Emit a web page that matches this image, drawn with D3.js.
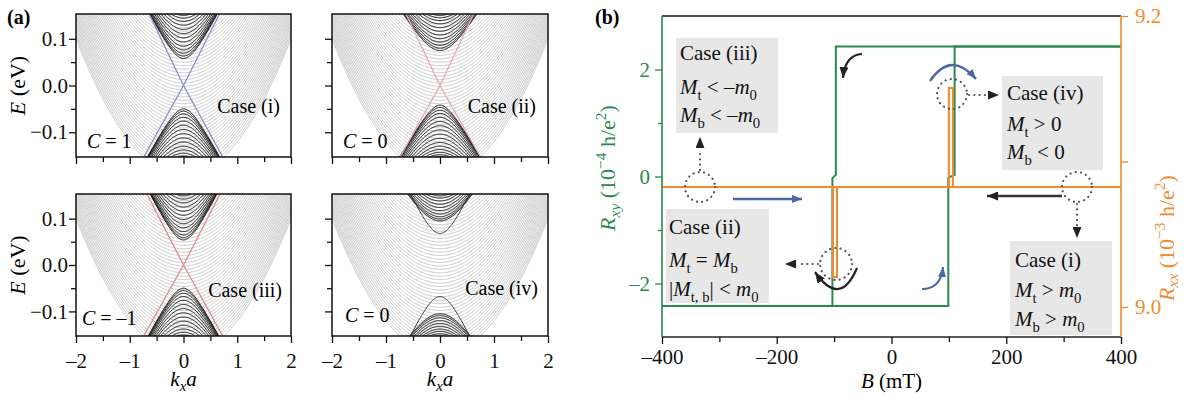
<!DOCTYPE html>
<html>
<head>
<meta charset="utf-8">
<script src="https://cdn.jsdelivr.net/npm/d3@7"></script>
<style>
  html, body { margin: 0; padding: 0; background: #fff; }
  svg { display: block; font-family: "Liberation Serif", "Times New Roman", serif; }
</style>
</head>
<body>
<svg id="fig" width="1184" height="397"></svg>
<script>
// ---------------- panel (a): ribbon band structures ----------------
const kTicks = [-2, -1, 0, 1, 2];
const kMinorTicks = [-1.5, -0.5, 0.5, 1.5];
const eTicks = [0.1, 0.0, -0.1];
const eMinorTicks = [0.05, -0.05];
const eDomain = [-0.153, 0.153];
const caseLabels = ["Case (i)", "Case (ii)", "Case (iii)", "Case (iv)"];
const chernValues = ["1", "0", "–1", "0"];

// minima of the gray surface-continuum subbands (eV), shared by all four cases
const grayMinima = [-0.194, -0.1868, -0.1795, -0.1722, -0.1648, -0.1574, -0.15, -0.1426,
  -0.1352, -0.1278, -0.1204, -0.113, -0.1056, -0.0982, -0.0908, -0.0834, -0.076, -0.0686,
  -0.0612, -0.0538, -0.0464, -0.039, -0.0316, -0.0242, -0.0168, -0.0094, -0.002, 0.0054,
  0.0128, 0.0202, 0.0276, 0.035, 0.0424, 0.0498, 0.0572, 0.0646, 0.072, 0.0794, 0.0868,
  0.0942, 0.1016, 0.109, 0.1164, 0.1238, 0.1312, 0.1386, 0.146];
const grayCurvature = 0.0736;   // eV per (k_x a)^2

// bulk subband edges at k_x = 0 (eV) and their asymptotic velocities, per case
const conductionEdges = [
  [0.058, 0.063, 0.069, 0.076, 0.084, 0.093, 0.102, 0.111, 0.12, 0.129, 0.137, 0.144, 0.15],
  [0.075, 0.08, 0.086, 0.093, 0.1, 0.108, 0.116, 0.124, 0.132, 0.139, 0.145, 0.15],
  [0.054, 0.059, 0.065, 0.072, 0.08, 0.089, 0.098, 0.107, 0.116, 0.125, 0.134, 0.142, 0.149],
  [0.095, 0.099, 0.104, 0.11, 0.117, 0.124, 0.131, 0.138, 0.144, 0.149]
];
const conductionVelocity = [0.225, 0.196, 0.23, 0.2];
const valenceEdges = [
  [-0.05, -0.055, -0.061, -0.068, -0.076, -0.085, -0.094, -0.103, -0.112, -0.121, -0.13, -0.138, -0.145, -0.151],
  [-0.042, -0.047, -0.053, -0.06, -0.068, -0.077, -0.086, -0.095, -0.104, -0.113, -0.122, -0.13, -0.137, -0.143, -0.148, -0.152],
  [-0.05, -0.055, -0.061, -0.068, -0.076, -0.085, -0.094, -0.103, -0.112, -0.121, -0.13, -0.138, -0.145, -0.151],
  [-0.105, -0.109, -0.114, -0.12, -0.126, -0.132, -0.138, -0.143, -0.148, -0.152]
];
const valenceVelocity = [0.215, 0.196, 0.22, 0.2];

// split-off gapped surface bands (edge at k_x = 0, velocity), case (iv) only
const gappedSurfaceBands = [[], [], [], [[0.068, 0.25], [-0.068, 0.25]]];

// chiral edge-state branches, as (k_x a, E) points
const edgeStates = [
  [[[-0.74, -0.153], [0, 0], [0.67, 0.153]], [[0.73, -0.153], [0, 0], [-0.64, 0.153]]],
  [[[-0.74, -0.153], [0, 0], [0.62, 0.153]], [[0.75, -0.153], [0, 0], [-0.63, 0.153]]],
  [[[-0.74, -0.153], [0, 0], [0.68, 0.153]], [[0.73, -0.153], [0, 0], [-0.68, 0.153]]],
  []
];
const edgeColors = ["#8c8ec8", "#e8aab4", "#e08c8e", "none"];

// ---------------- panel (b): Hall and longitudinal resistance loops ----------------
const bTicks = [-400, -200, 0, 200, 400];
const bMinorTicks = [-300, -100, 100, 300];
const rxyTicks = [2, 0, -2];
const rxyMinorTicks = [1, -1];
const rxxTicks = [9.2, 9.0];
const rxxMinorTicks = [9.1];

const upSweepB = [-400, 99, 99, 110, 110, 400];
const upSweepRxy = [-2.42, -2.42, -0.02, 0.03, 2.43, 2.43];
const downSweepB = [400, -97, -97, -103, -103, -400];
const downSweepRxy = [2.43, 2.43, 0.03, -0.03, -2.42, -2.42];

const upSweepRxxB = [-400, 100, 100, 107, 107, 400];
const upSweepRxx = [9.0825, 9.0825, 9.1505, 9.1505, 9.0825, 9.0825];
const downSweepRxxB = [400, -95, -95, -102, -102, -400];
const downSweepRxx = [9.0825, 9.0825, 9.0206, 9.0206, 9.0825, 9.0825];

// ---------------- drawing ----------------
const svg = d3.select("#fig");
const SERIF = '"Liberation Serif","Times New Roman",serif';
const GREEN = "#2a8a4e", ORANGE = "#f08a2c", BLUE = "#4a68a8", INK = "#111";
const MINUS = "–";
const fmtMinus = s => String(s).replace("-", MINUS);

// rich text: parts of {t, i (italic), sub, sup}
function rich(sel, x, y, parts, size, anchor, subShift) {
  const t = sel.append("text").attr("x", x).attr("y", y)
    .attr("font-family", SERIF)
    .attr("font-size", size).attr("text-anchor", anchor || "start");
  let shift = 0;
  parts.forEach(p => {
    const target = p.sub ? size * (subShift || 0.27) : (p.sup ? -size * 0.4 : 0);
    const ts = t.append("tspan").text(p.t).attr("dy", target - shift);
    shift = target;
    if (p.sub || p.sup) ts.attr("font-size", size * 0.7);
    if (p.i) ts.attr("font-style", "italic");
  });
  return t;
}

const defs = svg.append("defs");

// ===== panel (a) =====
const cells = [
  {x0: 76, x1: 291, y0: 14, y1: 157, xl: false, yl: true, caseX: 280, caseY: 113, cX: 87, cY: 148},
  {x0: 332, x1: 548, y0: 14, y1: 157, xl: false, yl: false, caseX: 536, caseY: 113, cX: 343, cY: 148},
  {x0: 76, x1: 291, y0: 194, y1: 336, xl: true, yl: true, caseX: 282, caseY: 297, cX: 82, cY: 325},
  {x0: 332, x1: 548, y0: 194, y1: 336, xl: true, yl: false, caseX: 538, caseY: 295, cX: 345, cY: 322}
];

const kSamples = d3.range(-2.1, 2.1001, 0.01);

cells.forEach((c, idx) => {
  const x = d3.scaleLinear().domain([-2, 2]).range([c.x0, c.x1]);
  const y = d3.scaleLinear().domain(eDomain).range([c.y1, c.y0]);
  const g = svg.append("g");
  const clipId = "clip" + idx;
  defs.append("clipPath").attr("id", clipId).append("rect")
    .attr("x", c.x0).attr("y", c.y0).attr("width", c.x1 - c.x0).attr("height", c.y1 - c.y0);
  const plot = g.append("g").attr("clip-path", `url(#${clipId})`);
  const line = d3.line().x(d => x(d[0])).y(d => y(d[1]));
  const hyperbola = (m, v) => line(kSamples.map(k => [k, Math.sign(m) * Math.sqrt(m * m + v * v * k * k)]));

  // gray continuum
  plot.append("g").selectAll("path").data(grayMinima).join("path")
    .attr("d", e0 => line(kSamples.map(k => [k, e0 + grayCurvature * k * k])))
    .attr("fill", "none").attr("stroke", "#bdbdbd").attr("stroke-width", 0.85);

  // bulk subbands
  const vc = conductionVelocity[idx], vv = valenceVelocity[idx];
  plot.append("g").selectAll("path").data(conductionEdges[idx]).join("path")
    .attr("d", m => hyperbola(m, vc))
    .attr("fill", "none").attr("stroke", INK).attr("stroke-width", 1);
  plot.append("g").selectAll("path").data(valenceEdges[idx]).join("path")
    .attr("d", m => hyperbola(m, vv))
    .attr("fill", "none").attr("stroke", INK).attr("stroke-width", 1);
  plot.append("g").selectAll("path").data(gappedSurfaceBands[idx]).join("path")
    .attr("d", d => hyperbola(d[0], d[1]))
    .attr("fill", "none").attr("stroke", "#333").attr("stroke-width", 1);

  // edge states
  plot.append("g").selectAll("path").data(edgeStates[idx]).join("path")
    .attr("d", d => line(d))
    .attr("fill", "none").attr("stroke", edgeColors[idx]).attr("stroke-width", 1.3);

  // frame
  g.append("rect").attr("x", c.x0).attr("y", c.y0)
    .attr("width", c.x1 - c.x0).attr("height", c.y1 - c.y0)
    .attr("fill", "none").attr("stroke", "#111").attr("stroke-width", 1.5);

  // axes
  g.append("g").attr("transform", `translate(0,${c.y1})`)
    .call(d3.axisBottom(x).tickValues(kTicks).tickSize(7).tickPadding(10)
      .tickFormat(c.xl ? fmtMinus : ""));
  g.append("g").attr("transform", `translate(0,${c.y1})`)
    .call(d3.axisBottom(x).tickValues(kMinorTicks).tickSize(5).tickFormat(""));
  g.append("g").attr("transform", `translate(${c.x0},0)`)
    .call(d3.axisLeft(y).tickValues(eTicks).tickSize(7).tickPadding(1)
      .tickFormat(c.yl ? (v => fmtMinus(d3.format(".1f")(v))) : ""));
  g.append("g").attr("transform", `translate(${c.x0},0)`)
    .call(d3.axisLeft(y).tickValues(eMinorTicks).tickSize(5).tickFormat(""));
  g.selectAll(".domain").remove();
  g.selectAll(".tick line").attr("stroke", "#111").attr("stroke-width", 1.3);
  g.selectAll(".tick text").attr("font-size", 21).attr("fill", "#111")
    .attr("font-family", SERIF);

  // labels inside
  g.append("text").attr("x", c.caseX).attr("y", c.caseY).attr("text-anchor", "end")
    .attr("font-family", SERIF).attr("font-size", 20).text(caseLabels[idx]);
  rich(g, c.cX, c.cY, [{t: "C", i: true}, {t: " = " + chernValues[idx]}], 20);

  if (c.yl) {
    const gy = g.append("g").attr("transform", `translate(25,${(c.y0 + c.y1) / 2}) rotate(-90)`);
    rich(gy, 0, 0, [{t: "E", i: true}, {t: " (eV)"}], 22, "middle");
  }
  if (c.xl) {
    rich(g, (c.x0 + c.x1) / 2, 386, [{t: "k", i: true}, {t: "x", i: true, sub: true}, {t: "a", i: true}], 21, "middle", 0.22);
  }
});

svg.append("text").attr("x", 7).attr("y", 24).attr("font-size", 20)
  .attr("font-family", SERIF).attr("font-weight", "bold").text("(a)");

// ===== panel (b) =====
const bx0 = 662, bx1 = 1121, by0 = 16, by1 = 337;
const xB = d3.scaleLinear().domain([-400, 400]).range([bx0, bx1]);
const yRxy = d3.scaleLinear().domain([-3, 3]).range([by1, by0]);
const yRxx = d3.scaleLinear().domain([9.0 - (by1 - 307) / 1455, 9.2]).range([by1, by0]);

const pb = svg.append("g");

// annotation boxes
const boxes = [
  {x: 676, y: 38, w: 102, h: 95, lines: [
    [{t: "Case (iii)"}],
    [{t: "M", i: true}, {t: "t", sub: true}, {t: " < " + MINUS}, {t: "m", i: true}, {t: "0", sub: true}],
    [{t: "M", i: true}, {t: "b", sub: true}, {t: " < " + MINUS}, {t: "m", i: true}, {t: "0", sub: true}]],
    tx: 680, ty: [60, 94, 122]},
  {x: 1002, y: 76, w: 101, h: 94, lines: [
    [{t: "Case (iv)"}],
    [{t: "M", i: true}, {t: "t", sub: true}, {t: " > 0"}],
    [{t: "M", i: true}, {t: "b", sub: true}, {t: " < 0"}]],
    tx: 1007, ty: [100, 131, 159]},
  {x: 666, y: 209, w: 103, h: 94, lines: [
    [{t: "Case (ii)"}],
    [{t: "M", i: true}, {t: "t", sub: true}, {t: " = "}, {t: "M", i: true}, {t: "b", sub: true}],
    [{t: "|"}, {t: "M", i: true}, {t: "t, b", sub: true}, {t: "| < "}, {t: "m", i: true}, {t: "0", sub: true}]],
    tx: 669, ty: [234, 267, 296]},
  {x: 1010, y: 241, w: 102, h: 94, lines: [
    [{t: "Case (i)"}],
    [{t: "M", i: true}, {t: "t", sub: true}, {t: " > "}, {t: "m", i: true}, {t: "0", sub: true}],
    [{t: "M", i: true}, {t: "b", sub: true}, {t: " > "}, {t: "m", i: true}, {t: "0", sub: true}]],
    tx: 1015, ty: [267, 297, 326]}
];
pb.append("g").selectAll("rect").data(boxes).join("rect")
  .attr("x", d => d.x).attr("y", d => d.y).attr("width", d => d.w).attr("height", d => d.h)
  .attr("fill", "#e7e7e7");

// resistance loops
const loopLine = d3.line().x(d => xB(d[0])).y(d => d[2](d[1]));
const zip = (bs, vs, sc) => bs.map((b, i) => [b, vs[i], sc]);
[zip(upSweepB, upSweepRxy, yRxy), zip(downSweepB, downSweepRxy, yRxy)].forEach(pts => {
  pb.append("path").attr("d", loopLine(pts)).attr("fill", "none")
    .attr("stroke", GREEN).attr("stroke-width", 2).attr("stroke-linejoin", "miter");
});
[zip(upSweepRxxB, upSweepRxx, yRxx), zip(downSweepRxxB, downSweepRxx, yRxx)].forEach(pts => {
  pb.append("path").attr("d", loopLine(pts)).attr("fill", "none")
    .attr("stroke", ORANGE).attr("stroke-width", 2).attr("stroke-linejoin", "miter");
});

// spines
pb.append("line").attr("x1", bx0).attr("x2", bx1).attr("y1", by0).attr("y2", by0)
  .attr("stroke", "#111").attr("stroke-width", 1.5);
pb.append("line").attr("x1", bx0).attr("x2", bx1).attr("y1", by1).attr("y2", by1)
  .attr("stroke", "#222").attr("stroke-width", 1.5);
pb.append("line").attr("x1", bx0).attr("x2", bx0).attr("y1", by0).attr("y2", by1)
  .attr("stroke", GREEN).attr("stroke-width", 1.6);
pb.append("line").attr("x1", bx1).attr("x2", bx1).attr("y1", by0).attr("y2", by1)
  .attr("stroke", ORANGE).attr("stroke-width", 1.6);

function styleAxis(g, color, size) {
  g.select(".domain").remove();
  g.selectAll(".tick line").attr("stroke", color).attr("stroke-width", 1.3);
  g.selectAll(".tick text").attr("fill", color).attr("font-size", size)
    .attr("font-family", SERIF);
}
styleAxis(pb.append("g").attr("transform", `translate(0,${by1})`)
  .call(d3.axisBottom(xB).tickValues(bTicks).tickSize(7).tickPadding(5).tickFormat(fmtMinus)), "#111", 21);
styleAxis(pb.append("g").attr("transform", `translate(0,${by1})`)
  .call(d3.axisBottom(xB).tickValues(bMinorTicks).tickSize(5).tickFormat("")), "#111", 21);
styleAxis(pb.append("g").attr("transform", `translate(${bx0},0)`)
  .call(d3.axisLeft(yRxy).tickValues(rxyTicks).tickSize(7).tickPadding(5).tickFormat(fmtMinus)), GREEN, 21);
styleAxis(pb.append("g").attr("transform", `translate(${bx0},0)`)
  .call(d3.axisLeft(yRxy).tickValues(rxyMinorTicks).tickSize(4).tickFormat("")), GREEN, 21);
styleAxis(pb.append("g").attr("transform", `translate(${bx1},0)`)
  .call(d3.axisRight(yRxx).tickValues(rxxTicks).tickSize(7).tickPadding(7).tickFormat(d3.format(".1f"))), ORANGE, 21);
styleAxis(pb.append("g").attr("transform", `translate(${bx1},0)`)
  .call(d3.axisRight(yRxx).tickValues(rxxMinorTicks).tickSize(7).tickFormat("")), ORANGE, 21);

// axis titles
rich(pb, (bx0 + bx1) / 2, 388, [{t: "B", i: true}, {t: " (mT)"}], 21, "middle");
const gl = pb.append("g").attr("transform", "translate(615,168) rotate(-90)").attr("fill", GREEN);
rich(gl, 0, 0, [{t: "R", i: true}, {t: "xy", i: true, sub: true}, {t: " (10"}, {t: "−4", sup: true},
  {t: " h/e"}, {t: "2", sup: true}, {t: ")"}], 22, "middle", 0.22).attr("fill", GREEN);
const gr = pb.append("g").attr("transform", "translate(1174,238) rotate(-90)").attr("fill", ORANGE);
rich(gr, 0, 0, [{t: "R", i: true}, {t: "xx", i: true, sub: true}, {t: " (10"}, {t: "−3", sup: true},
  {t: " h/e"}, {t: "2", sup: true}, {t: ")"}], 22, "middle", 0.2).attr("fill", ORANGE);

// markers for arrows
function marker(id, color, w, h) {
  defs.append("marker").attr("id", id).attr("viewBox", `0 0 ${w} ${h}`)
    .attr("refX", w).attr("refY", h / 2).attr("markerWidth", w).attr("markerHeight", h)
    .attr("markerUnits", "userSpaceOnUse").attr("orient", "auto")
    .append("path").attr("d", `M0,0 L${w},${h / 2} L0,${h} Z`).attr("fill", color);
}
marker("headK", "#222", 11, 9);
marker("headB", BLUE, 10, 8);

const ann = pb.append("g");
// dotted circles marking the states
const rings = [[700, 187, 15], [1077, 187, 15], [952, 94, 15], [836, 264, 16]];
ann.selectAll("circle").data(rings).join("circle")
  .attr("cx", d => d[0]).attr("cy", d => d[1]).attr("r", d => d[2])
  .attr("fill", "none").attr("stroke", "#555").attr("stroke-width", 2.2)
  .attr("stroke-dasharray", "0.1 5.2").attr("stroke-linecap", "round");
// dotted leaders to the boxes
const leaders = [[[700, 170], [700, 150]], [[1077, 204], [1077, 226]], [[969, 95], [989, 95]], [[818, 264], [797, 264]]];
leaders.forEach(l => {
  ann.append("line").attr("x1", l[0][0]).attr("y1", l[0][1]).attr("x2", l[1][0]).attr("y2", l[1][1])
    .attr("stroke", "#555").attr("stroke-width", 2.2).attr("stroke-dasharray", "0.1 5.2")
    .attr("stroke-linecap", "round");
});
const heads = [[[700, 149], [700, 137]], [[1077, 226], [1077, 238]], [[988, 95], [999, 95]], [[797, 264], [785, 264]]];
heads.forEach(h => {
  ann.append("path").attr("d", `M${h[0][0]},${h[0][1]} L${h[1][0]},${h[1][1]}`)
    .attr("stroke", "#222").attr("stroke-width", 0.01).attr("marker-end", "url(#headK)");
});

// sweep direction arrows
ann.append("path").attr("d", "M733,199 L802,199").attr("stroke", BLUE).attr("stroke-width", 2.4)
  .attr("fill", "none").attr("marker-end", "url(#headB)");
ann.append("path").attr("d", "M1062,196 L987,196").attr("stroke", "#333").attr("stroke-width", 2.4)
  .attr("fill", "none").attr("marker-end", "url(#headK)");
ann.append("path").attr("d", "M862,54 Q845,55 843,78").attr("stroke", "#222").attr("stroke-width", 2.2)
  .attr("fill", "none").attr("marker-end", "url(#headK)");
ann.append("path").attr("d", "M930,81 Q951,50 976,79").attr("stroke", BLUE).attr("stroke-width", 2.4)
  .attr("fill", "none").attr("marker-end", "url(#headB)");
ann.append("path").attr("d", "M857,268 Q840,308 815,272").attr("stroke", "#222").attr("stroke-width", 2.2)
  .attr("fill", "none").attr("marker-end", "url(#headK)");
ann.append("path").attr("d", "M922,289 Q941,289 943,267").attr("stroke", BLUE).attr("stroke-width", 2.2)
  .attr("fill", "none").attr("marker-end", "url(#headB)");

// box texts
boxes.forEach(b => {
  b.lines.forEach((parts, i) => rich(ann, b.tx, b.ty[i], parts, 21).attr("fill", "#111"));
});

svg.append("text").attr("x", 595).attr("y", 24).attr("font-size", 20)
  .attr("font-family", SERIF).attr("font-weight", "bold").text("(b)");
</script>
</body>
</html>
